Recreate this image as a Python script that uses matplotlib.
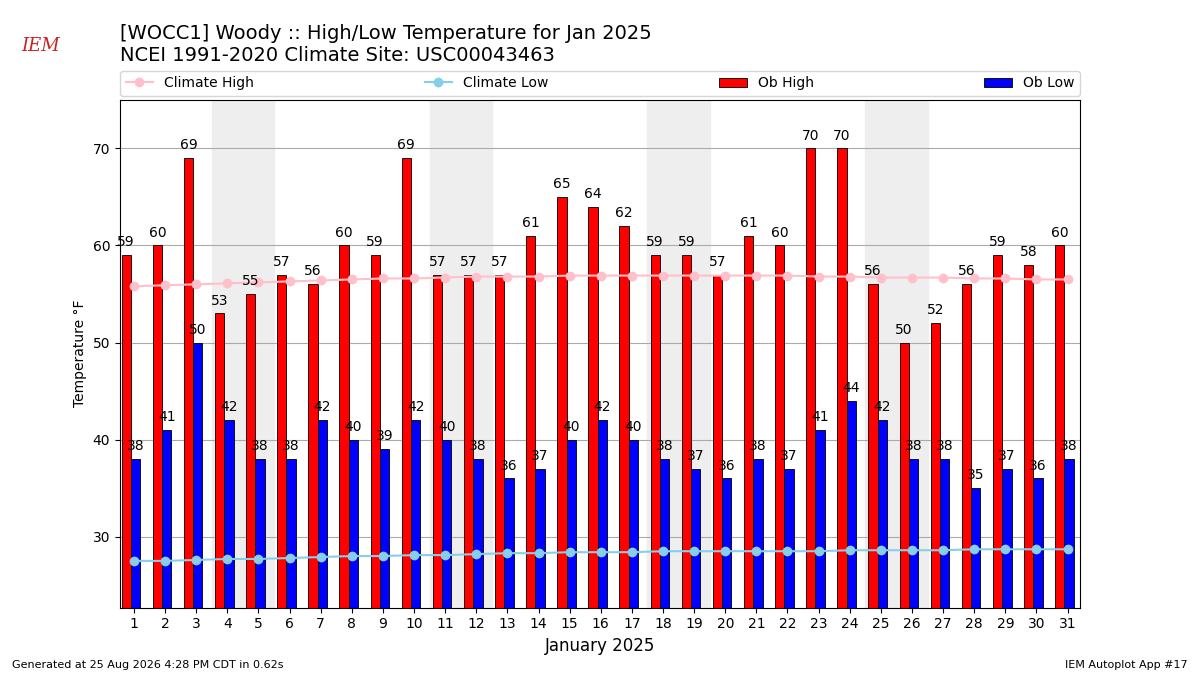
import numpy as np
import matplotlib.pyplot as plt

days = np.arange(1, 32)
ob_high = [59, 60, 69, 53, 55, 57, 56, 60, 59, 69, 57, 57, 57, 61, 65, 64, 62, 59, 59, 57,
           61, 60, 70, 70, 56, 50, 52, 56, 59, 58, 60]
ob_low = [38, 41, 50, 42, 38, 38, 42, 40, 39, 42, 40, 38, 36, 37, 40, 42, 40, 38, 37, 36,
          38, 37, 41, 44, 42, 38, 38, 35, 37, 36, 38]
clim_high = [55.8, 55.9, 56.0, 56.1, 56.2, 56.3, 56.4, 56.5, 56.6, 56.6, 56.7, 56.8, 56.8, 56.8, 56.9, 56.9,
             56.9, 56.9, 56.9, 56.9, 56.9, 56.9, 56.8, 56.8, 56.7, 56.7, 56.7, 56.6, 56.6, 56.5, 56.5]
clim_low = [27.5, 27.5, 27.6, 27.7, 27.7, 27.8, 27.9, 28.0, 28.0, 28.1, 28.1, 28.2, 28.3, 28.3, 28.4, 28.4,
            28.4, 28.5, 28.5, 28.5, 28.5, 28.5, 28.5, 28.6, 28.6, 28.6, 28.6, 28.7, 28.7, 28.7, 28.7]
weekends = [4, 11, 18, 25]

fig = plt.figure(figsize=(12, 6.75), dpi=100)
ax = fig.add_axes([0.1, 0.1, 0.8, 0.752])

for d in weekends:
    ax.axvspan(d - 0.5, d + 1.5, color="#eeeeee", zorder=0)

lh, = ax.plot(days, clim_high, "-o", color="pink", ms=6, label="Climate High", zorder=3)
ll, = ax.plot(days, clim_low, "-o", color="skyblue", ms=6, label="Climate Low", zorder=3)
bh = ax.bar(days - 0.25, ob_high, width=0.3, color="r", edgecolor="k", linewidth=0.6, label="Ob High", zorder=2)
bl = ax.bar(days + 0.05, ob_low, width=0.3, color="b", edgecolor="k", linewidth=0.6, label="Ob Low", zorder=2)
for d, h, l in zip(days, ob_high, ob_low):
    ax.text(d - 0.25, h + 0.6, str(h), ha="center", va="bottom", fontsize=10)
    ax.text(d + 0.05, l + 0.6, str(l), ha="center", va="bottom", fontsize=10)

ax.set_xlim(0.55, 31.4)
ax.set_ylim(22.7, 75)
ax.set_xticks(days)
ax.set_yticks([30, 40, 50, 60, 70])
ax.yaxis.grid(True, color="#aaaaaa", linewidth=0.8)
ax.set_axisbelow(True)
ax.set_ylabel("Temperature °F")
ax.set_xlabel("January 2025", fontsize=12)
ax.legend(handles=[lh, ll, bh, bl], loc="lower left", bbox_to_anchor=(0, 1.008, 1, 0.05),
          ncol=4, mode="expand", fontsize=10, borderaxespad=0)

fig.text(0.1, 0.965, "[WOCC1] Woody :: High/Low Temperature for Jan 2025", fontsize=14, va="top")
fig.text(0.1, 0.932, "NCEI 1991-2020 Climate Site: USC00043463", fontsize=14, va="top")
fig.text(0.01, 0.01, "Generated at 25 Aug 2026 4:28 PM CDT in 0.62s", fontsize=8)
fig.text(0.99, 0.01, "IEM Autoplot App #17", fontsize=8, ha="right")
fig.text(0.018, 0.925, "IEM", fontsize=13, color="#cc2222", style="italic", family="serif")

fig.savefig("out.png")
